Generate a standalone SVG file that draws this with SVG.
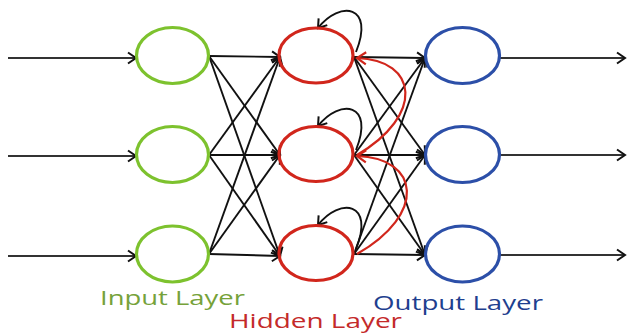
<svg xmlns="http://www.w3.org/2000/svg" width="627" height="334" viewBox="0 0 627 334">
  <defs>
    <marker id="arr" markerUnits="userSpaceOnUse" markerWidth="14" markerHeight="14" viewBox="0 0 14 14" refX="11" refY="7" orient="auto">
      <path d="M3,1.5 L11,7 L3,12.5" fill="none" stroke="#111" stroke-width="2"/>
    </marker>
    <marker id="arrRed" markerUnits="userSpaceOnUse" markerWidth="16" markerHeight="16" viewBox="0 0 16 16" refX="12" refY="8" orient="auto">
      <path d="M3,2 L12,8 L3,14" fill="none" stroke="#D1261C" stroke-width="2.2"/>
    </marker>
  </defs>
  <style>
    .in { fill: none; stroke: #7DC22E; stroke-width: 3.2; }
    .hid { fill: none; stroke: #D1261C; stroke-width: 3.2; }
    .out { fill: none; stroke: #2C4FA8; stroke-width: 3.2; }
    .edge { fill: none; stroke: #111; stroke-width: 1.9; marker-end: url(#arr); }
    .io { fill: none; stroke: #333; stroke-width: 2.2; marker-end: url(#arr); }
    .rec { fill: none; stroke: #D1261C; stroke-width: 2.2; marker-end: url(#arrRed); }
    .loop { fill: none; stroke: #111; stroke-width: 1.9; marker-end: url(#arr); }
    .lbl { font-family: "Open Sans", "Liberation Sans", sans-serif; font-size: 20px; font-weight: 500; }
  </style>
  <rect width="627" height="334" fill="#fff"/>

  <g id="connectors">
    <!-- external inputs -->
    <path class="io" d="M8,58 L136,58"/>
    <path class="io" d="M8,156 L136,156"/>
    <path class="io" d="M8,256 L136,256"/>
    <!-- input to hidden, fully connected -->
    <path class="edge" d="M209,56 L280,57"/>
    <path class="edge" d="M209,56 L280,155"/>
    <path class="edge" d="M209,56 L280,256"/>
    <path class="edge" d="M209,155 L280,57"/>
    <path class="edge" d="M209,155 L280,155"/>
    <path class="edge" d="M209,155 L280,256"/>
    <path class="edge" d="M209,254 L280,57"/>
    <path class="edge" d="M209,254 L280,155"/>
    <path class="edge" d="M209,254 L280,256"/>
    <!-- hidden to output, fully connected -->
    <path class="edge" d="M354,57 L425,58"/>
    <path class="edge" d="M354,57 L425,155"/>
    <path class="edge" d="M354,57 L425,255"/>
    <path class="edge" d="M354,155 L425,58"/>
    <path class="edge" d="M354,155 L425,155"/>
    <path class="edge" d="M354,155 L425,255"/>
    <path class="edge" d="M354,254 L425,58"/>
    <path class="edge" d="M354,254 L425,155"/>
    <path class="edge" d="M354,254 L425,255"/>
    <!-- self loops on hidden units -->
    <path class="loop" d="M356,52 C375,5 340,0 318,28"/>
    <path class="loop" d="M356,150 C375,103 340,98 318,126"/>
    <path class="loop" d="M356,249 C375,202 340,197 318,225"/>
    <!-- recurrent links between hidden units -->
    <path class="rec" d="M357,155 C425,115 418,60 357,58"/>
    <path class="rec" d="M357,254 C427,214 420,158 357,156"/>
    <!-- outputs -->
    <path class="io" d="M500,58 L625,58"/>
    <path class="io" d="M500,155 L625,155"/>
    <path class="io" d="M500,255 L625,255"/>
  </g>

  <g id="input1"><ellipse class="in" cx="172.5" cy="55.5" rx="36" ry="28"/></g>
  <g id="input2"><ellipse class="in" cx="172.5" cy="154.5" rx="36" ry="28"/></g>
  <g id="input3"><ellipse class="in" cx="172.5" cy="254" rx="36" ry="28"/></g>

  <g id="hidden1"><ellipse class="hid" cx="316" cy="55.5" rx="37" ry="27.5"/></g>
  <g id="hidden2"><ellipse class="hid" cx="316" cy="154" rx="37" ry="27.5"/></g>
  <g id="hidden3"><ellipse class="hid" cx="316" cy="253" rx="37" ry="27.5"/></g>

  <g id="output1"><ellipse class="out" cx="462.5" cy="55.5" rx="37" ry="28"/></g>
  <g id="output2"><ellipse class="out" cx="462.5" cy="154.5" rx="37" ry="28"/></g>
  <g id="output3"><ellipse class="out" cx="462.5" cy="254" rx="37" ry="28"/></g>

  <g id="labels">
    <text class="lbl" x="100" y="305" fill="#76A23A" textLength="145" lengthAdjust="spacingAndGlyphs">Input Layer</text>
    <text class="lbl" x="229" y="328" fill="#C42A2A" textLength="173" lengthAdjust="spacingAndGlyphs">Hidden Layer</text>
    <text class="lbl" x="373" y="310" fill="#1F3F8F" textLength="170" lengthAdjust="spacingAndGlyphs">Output Layer</text>
  </g>
</svg>
